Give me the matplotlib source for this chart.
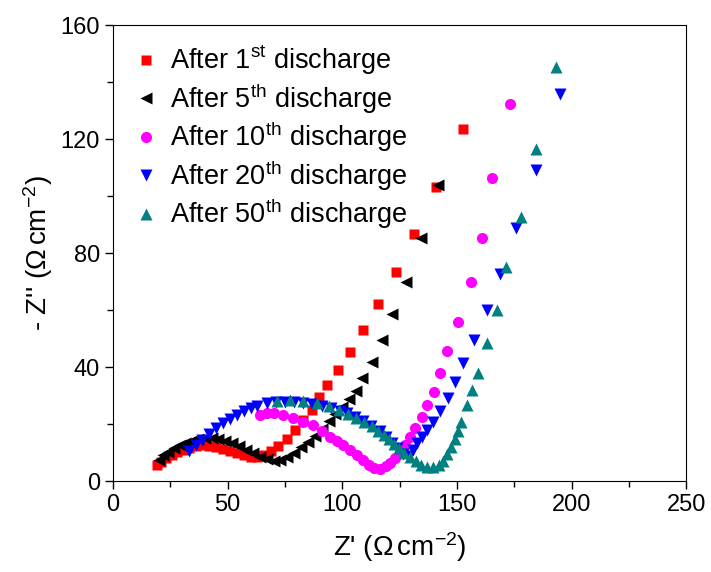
import matplotlib
matplotlib.use('Agg')
import matplotlib.pyplot as plt
from matplotlib.ticker import MultipleLocator

plt.rcParams['font.family'] = ['Liberation Sans', 'DejaVu Sans']
plt.rcParams['mathtext.fontset'] = 'custom'
plt.rcParams['mathtext.rm'] = 'Liberation Sans'
plt.rcParams['mathtext.it'] = 'Liberation Sans:italic'
plt.rcParams['mathtext.bf'] = 'Liberation Sans:bold'

# datos (Z' , -Z'')
x_1st = [19, 21, 23, 25.5, 28, 30.5, 33, 36, 39, 42, 45, 48, 51, 54, 57, 60, 63, 66, 69, 72,
         75.8, 79.4, 83, 86.7, 90, 93.2, 98, 103.4, 109.2, 115.8, 123.3, 131.4, 140.9, 152.7]
y_1st = [5.5, 6.8, 8, 9.2, 10.2, 11, 11.7, 12.2, 12.5, 12.4, 12, 11.3, 10.5, 9.7, 9.0, 8.6, 8.6, 9.2, 10.5, 12.3,
         14.8, 17.9, 21.4, 24.9, 29.6, 33.7, 38.9, 45.4, 53.0, 62.3, 73.2, 86.7, 103.3, 123.5]

x_5th = [20, 22, 24, 26.5, 29, 31.5, 34, 37, 40, 43, 46, 49, 52, 55, 58, 61, 64, 67, 70, 73,
         76, 79, 82, 85, 88, 91, 94, 97, 100, 103, 106, 108.5, 112.8, 117.2, 121.6, 127.8, 134.2, 141.9]
y_5th = [7.5, 9, 10.3, 11.5, 12.5, 13.3, 14, 14.6, 15, 15, 14.6, 14, 13.2, 12.2, 11, 9.8, 8.6, 7.6, 7.2, 7.5,
         8.5, 10, 11.8, 13.6, 15.8, 18.3, 21, 23.5, 26, 28.8, 31.5, 36.0, 41.9, 49.5, 58.6, 69.7, 85.2, 103.9]

x_10th = [64, 67, 70, 74, 78.5, 83, 87.4, 91, 94.7, 97.5, 100.5, 103.5, 106.3, 109, 111.5, 114, 116.5,
          119, 121, 123, 125, 127.4, 129.6, 131.8, 134.6, 136.9, 139.8, 142.6, 145.7, 150.4, 156.0, 160.9,
          165.5, 173.2]
y_10th = [23.2, 23.8, 24, 23.3, 22, 20.8, 19.6, 17.7, 15.5, 14, 12.6, 10.8, 9.1, 7.4, 5.8, 4.6, 4.4,
          5.2, 6.5, 8.2, 10, 12.6, 15.5, 18.5, 22.6, 26.7, 31.3, 37.8, 45.7, 55.7, 69.7, 85.2,
          106.2, 132.5]

x_20th = [33, 36, 39, 42, 45, 48, 51, 54, 57, 60, 63, 67, 71, 75, 79, 83, 87, 91, 95, 99, 102, 105.5,
          109, 112.5, 116.5, 119, 121.5, 124, 126.5, 129, 131, 132.8, 134.6, 136.8, 139.7, 142.8, 146.3,
          149.2, 152.8, 157.4, 163, 168.6, 175.7, 184.4, 194.8]
y_20th = [10.5, 12.5, 14.5, 16.5, 18.5, 20.3, 21.8, 23.2, 24.5, 25.6, 26.5, 27.3, 27.6, 27.8, 27.8, 27.5, 27.1, 26.5,
          25.7, 24.7, 23.8, 22.5, 21, 19.3, 17.5, 15.5, 13.5, 11.5, 9.6, 8.8, 10.9, 13.2, 15.5, 17.9, 20.8,
          24.6, 29.0, 34.6, 41.3, 49.5, 60, 72.5, 88.7, 109.1, 136.0]

x_50th = [71.4, 77.2, 83, 88.8, 94.2, 98.5, 102.5, 106, 109.5, 112.8, 115.5, 118, 120.3, 122.5, 124.7,
          127, 129.5, 132, 134.5, 137, 139.5, 142, 144, 145.8, 147.5, 149, 150.5, 152, 154.3, 156.5,
          159.4, 163, 167.4, 171.5, 177.8, 184.4, 193.1]
y_50th = [28.2, 28.6, 28.0, 27.4, 26.2, 25, 23.6, 22.3, 20.8, 19.2, 17.6, 16.1, 14.6, 13.1, 11.5,
          10, 8.3, 6.9, 5.8, 5.1, 5.0, 5.6, 7.2, 9.4, 12, 14.8, 17.6, 20.6, 26.7, 31.9,
          37.8, 48.5, 60, 75.2, 92.7, 116.4, 145.4]

etiquetas = [r'After 1$^{\mathrm{st}}$ discharge', r'After 5$^{\mathrm{th}}$ discharge',
             r'After 10$^{\mathrm{th}}$ discharge', r'After 20$^{\mathrm{th}}$ discharge',
             r'After 50$^{\mathrm{th}}$ discharge']

fig = plt.figure(figsize=(7.11, 5.72), dpi=100)
ax = fig.add_axes([0.159, 0.159, 0.806, 0.797])

ax.plot(x_1st, y_1st, 's', color='#ff0000', ms=7, mec='none', label=etiquetas[0])
ax.plot(x_5th, y_5th, '<', color='black', ms=9, mec='none', label=etiquetas[1])
ax.plot(x_10th, y_10th, 'o', color='#ff00ff', ms=8, mec='none', label=etiquetas[2])
ax.plot(x_20th, y_20th, 'v', color='#0000ff', ms=9, mec='none', label=etiquetas[3])
ax.plot(x_50th, y_50th, '^', color='#008080', ms=9, mec='none', label=etiquetas[4])

ax.set_xlim(0, 250)
ax.set_ylim(0, 160)
ax.xaxis.set_major_locator(MultipleLocator(50))
ax.xaxis.set_minor_locator(MultipleLocator(25))
ax.yaxis.set_major_locator(MultipleLocator(40))
ax.yaxis.set_minor_locator(MultipleLocator(20))
ax.tick_params(which='both', direction='out', top=False, right=False, labelsize=17, width=1)
ax.tick_params(which='major', length=6)
ax.tick_params(which='minor', length=4)

ax.set_xlabel("Z' (\u03a9$\\,$cm$^{-2}$)", fontsize=20, labelpad=10)
ax.set_ylabel("- Z'' (\u03a9$\\,$cm$^{-2}$)", fontsize=20, labelpad=4)

ax.legend(loc='upper left', frameon=False, fontsize=19.5, handlelength=1.0, handletextpad=0.4,
          labelspacing=0.15, borderaxespad=0.3, borderpad=0.4)

fig.savefig('out.png', dpi=100)
